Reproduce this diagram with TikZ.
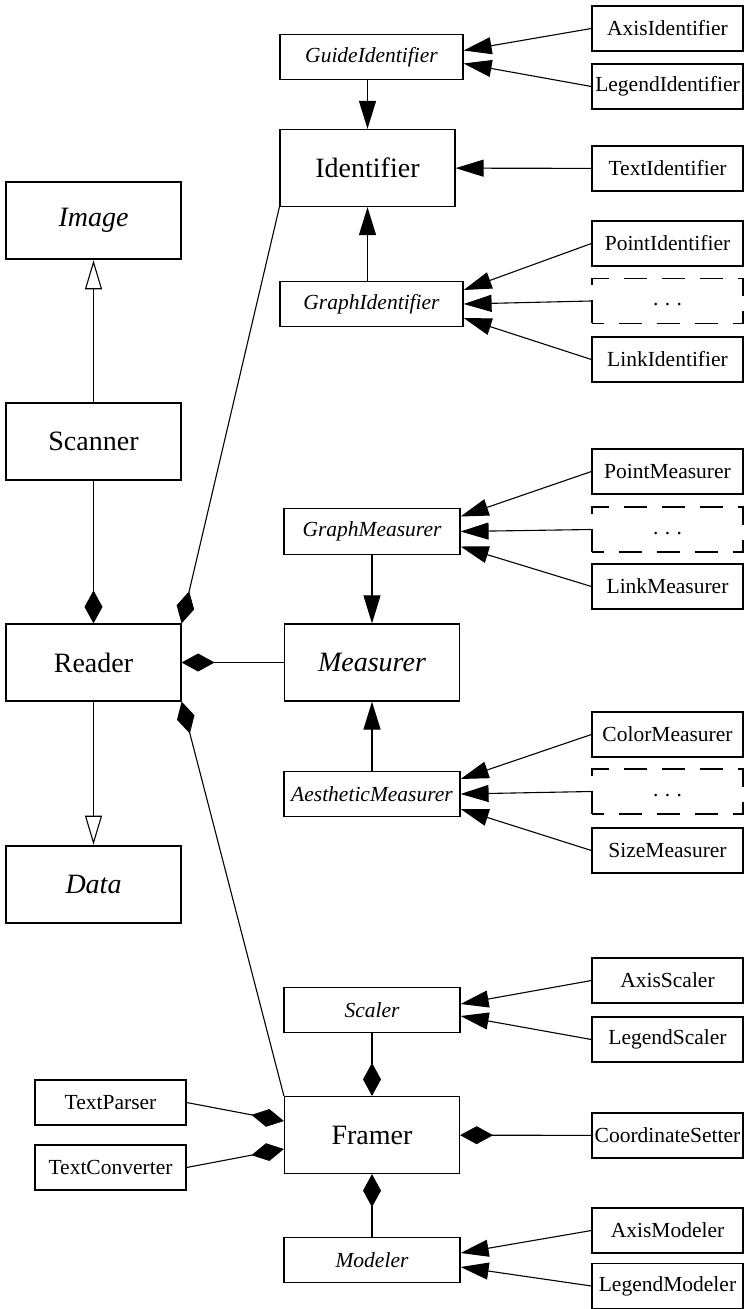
\documentclass[tikz,border=0pt]{standalone}
\usepackage{fontspec}
\setmainfont{Liberation Serif}
\usepackage{tikz}
\usetikzlibrary{arrows.meta,calc}

\newcommand{\moredots}{\vphantom{x}.\hspace{0.3em}.\hspace{0.3em}.}

\tikzset{
  cls/.style={draw, line width=0.6pt, inner sep=1pt, align=center},
  bigcls/.style={cls, minimum width=87.5pt, minimum height=38.5pt, font=\fontsize{14}{16}\selectfont},
  abscls/.style={bigcls, line width=1.3pt, font=\fontsize{14}{16}\selectfont\itshape},
  midcls/.style={cls, minimum width=88pt, minimum height=22.75pt, font=\fontsize{10.75}{12}\selectfont\itshape},
  leafcls/.style={cls, minimum width=75.5pt, minimum height=22.5pt, font=\fontsize{10.75}{12}\selectfont},
  morecls/.style={leafcls, dash pattern=on 11.5pt off 7.5pt, dash phase=5.75pt},
  gen/.style={-{Triangle[open, length=14.5pt, width=8.5pt]}},
  dep/.style={-{Triangle[length=14pt, width=8.5pt]}},
  comp/.style={-{Diamond[length=16.5pt, width=9pt]}},
}

\begin{document}
\begin{tikzpicture}[x=0.5pt, y=-0.5pt, line width=0.55pt]
  \useasboundingbox (0,0) rectangle (744,1309);
  % 左列
  \node[abscls] (image) at (93.5,220.5) {Image};
  \node[bigcls] (scanner) at (93.5,441.5) {Scanner};
  \node[bigcls] (reader) at (93.5,662.5) {Reader};
  \node[abscls] (data) at (93.5,884.5) {Data};
  \draw[gen] (scanner) -- (image);
  \draw[gen] (reader) -- (data);
  \draw[comp] (scanner) -- (reader);
  % Identifier
  \node[bigcls] (identifier) at (367.5,168) {Identifier};
  \node[midcls, minimum width=91.5pt] (guideid) at (371.5,57) {GuideIdentifier};
  \node[midcls, minimum width=91.5pt] (graphid) at (371.5,304) {GraphIdentifier};
  \node[leafcls] (axisid) at (667.5,28.5) {AxisIdentifier};
  \node[leafcls] (legendid) at (667.5,86.5) {LegendIdentifier};
  \node[leafcls] (textid) at (667.5,168.5) {TextIdentifier};
  \node[leafcls] (pointid) at (667.5,243.5) {PointIdentifier};
  \node[morecls] (moreid) at (667.5,301) {\moredots};
  \node[leafcls] (linkid) at (667.5,359.5) {LinkIdentifier};
  \draw[dep] (identifier.north |- guideid.south) -- (identifier.north);
  \draw[dep] (identifier.south |- graphid.north) -- (identifier.south);
  \draw[dep] (axisid.west) -- ([yshift=3.25pt]guideid.east);
  \draw[dep] (legendid.west) -- ([yshift=-3.25pt]guideid.east);
  \draw[dep] (textid) -- (identifier);
  \draw[dep] (pointid.west) -- ([yshift=7pt]graphid.east);
  \draw[dep] (moreid.west) -- (graphid.east);
  \draw[dep] (linkid.west) -- ([yshift=-7pt]graphid.east);
  \draw[comp] (identifier.south west) -- (reader.north east);
  % Measurer
  \node[bigcls, font=\fontsize{14}{16}\selectfont\itshape] (measurer) at (372,662.5) {Measurer};
  \node[midcls] (graphmeas) at (372,531.5) {GraphMeasurer};
  \node[midcls] (aesmeas) at (372,794) {AestheticMeasurer};
  \node[leafcls] (pointmeas) at (667.5,471.5) {PointMeasurer};
  \node[morecls] (moremeas) at (667.5,529.5) {\moredots};
  \node[leafcls] (linkmeas) at (667.5,586.5) {LinkMeasurer};
  \node[leafcls] (colormeas) at (667.5,734.5) {ColorMeasurer};
  \node[morecls] (moreaes) at (667.5,791.5) {\moredots};
  \node[leafcls] (sizemeas) at (667.5,850.5) {SizeMeasurer};
  \draw[dep] (graphmeas) -- (measurer);
  \draw[dep] (aesmeas) -- (measurer);
  \draw[dep] (pointmeas.west) -- ([yshift=7.5pt]graphmeas.east);
  \draw[dep] (moremeas.west) -- (graphmeas.east);
  \draw[dep] (linkmeas.west) -- ([yshift=-7.5pt]graphmeas.east);
  \draw[dep] (colormeas.west) -- ([yshift=7.5pt]aesmeas.east);
  \draw[dep] (moreaes.west) -- (aesmeas.east);
  \draw[dep] (sizemeas.west) -- ([yshift=-7.5pt]aesmeas.east);
  \draw[comp] (measurer) -- (reader);
  % Framer
  \node[bigcls] (framer) at (372,1135) {Framer};
  \node[midcls] (scaler) at (372,1010) {Scaler};
  \node[midcls] (modeler) at (372,1260) {Modeler};
  \node[leafcls] (axisscaler) at (667.5,980.5) {AxisScaler};
  \node[leafcls] (legendscaler) at (667.5,1039.5) {LegendScaler};
  \node[leafcls] (coordset) at (667.5,1135.5) {CoordinateSetter};
  \node[leafcls] (axismodeler) at (667.5,1230.5) {AxisModeler};
  \node[leafcls] (legendmodeler) at (667.5,1286) {LegendModeler};
  \node[leafcls] (textparser) at (110.5,1102.5) {TextParser};
  \node[leafcls] (textconv) at (110.5,1167.5) {TextConverter};
  \draw[dep] (axisscaler.west) -- ([yshift=3pt]scaler.east);
  \draw[dep] (legendscaler.west) -- ([yshift=-3pt]scaler.east);
  \draw[dep] (axismodeler.west) -- ([yshift=3.5pt]modeler.east);
  \draw[dep] (legendmodeler.west) -- ([yshift=-3.5pt]modeler.east);
  \draw[comp] (scaler) -- (framer);
  \draw[comp] (modeler) -- (framer);
  \draw[comp] (coordset) -- (framer);
  \draw[comp] (textparser.east) -- ([yshift=7pt]framer.west);
  \draw[comp] (textconv.east) -- ([yshift=-7pt]framer.west);
  \draw[comp] (framer.north west) -- (reader.south east);
\end{tikzpicture}
\end{document}
